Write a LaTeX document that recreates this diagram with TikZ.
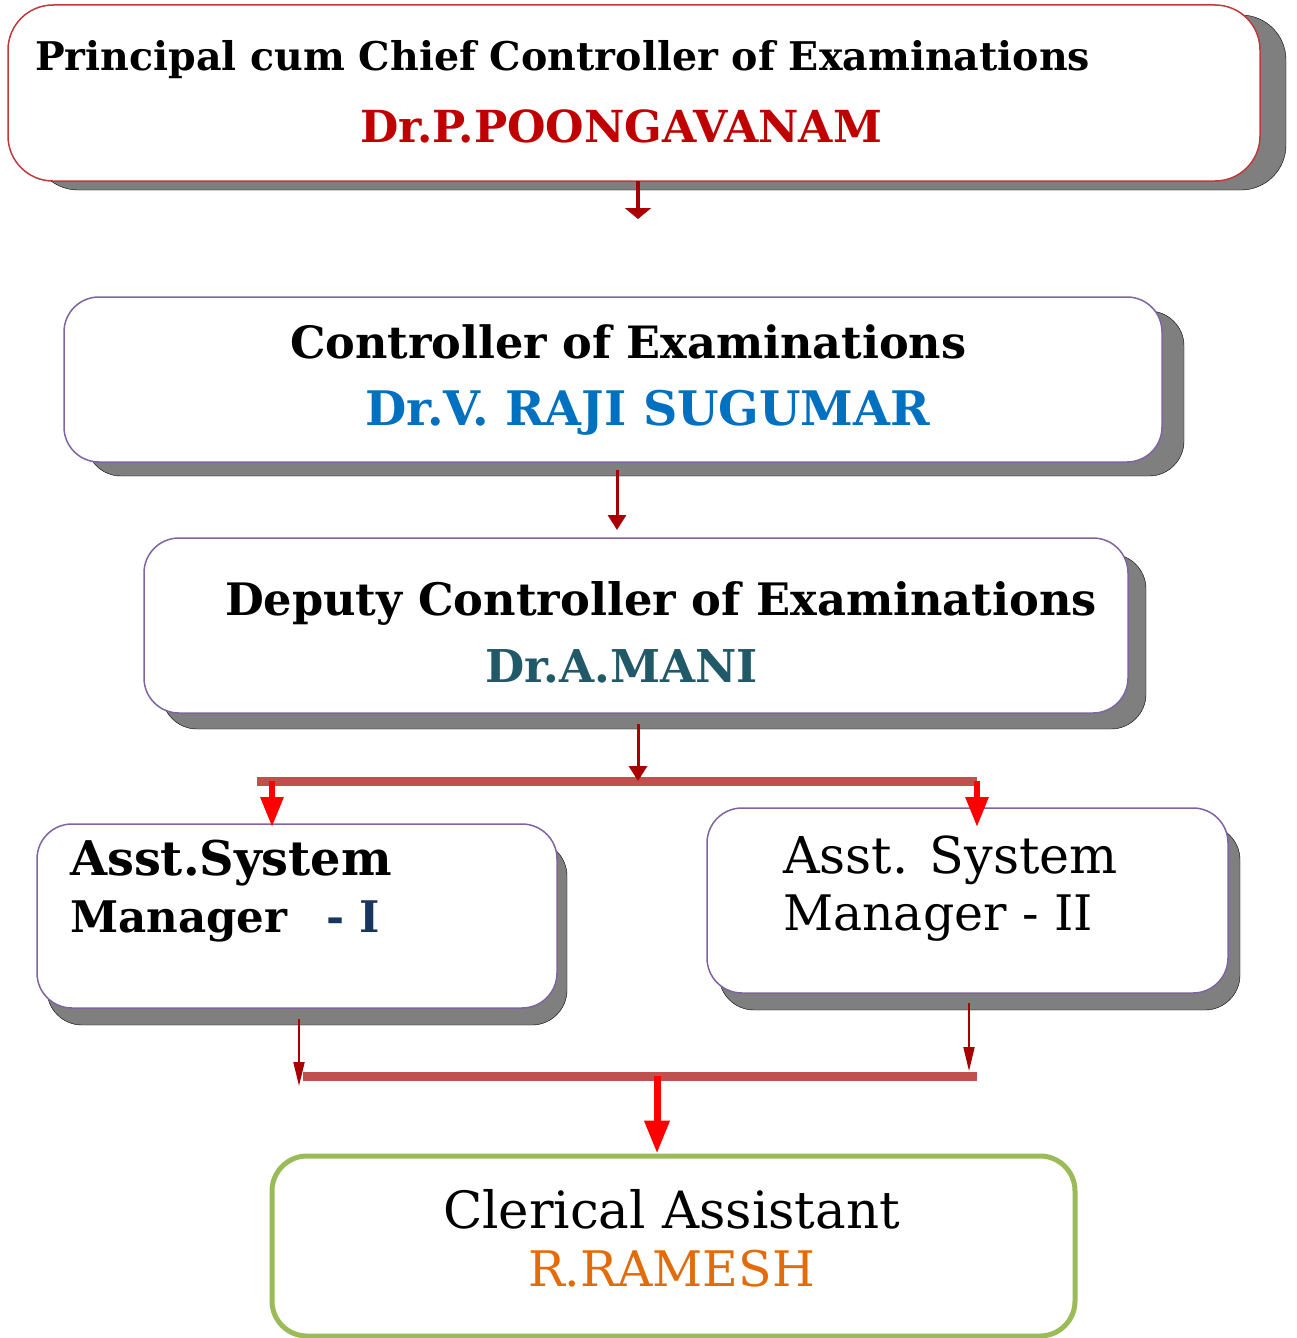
\documentclass[tikz,border=0pt]{standalone}
\usepackage{fontspec}
\setmainfont{DejaVu Serif}
\usetikzlibrary{arrows.meta}

\definecolor{shadowgray}{HTML}{7F7F7F}
\definecolor{topborder}{HTML}{C0393B}
\definecolor{purpleborder}{HTML}{8064A2}
\definecolor{greenborder}{HTML}{9BBB59}
\definecolor{barred}{HTML}{C0504D}
\definecolor{darkarrow}{HTML}{A80000}
\definecolor{namered}{HTML}{C00000}
\definecolor{nameblue}{HTML}{0070C0}
\definecolor{nameteal}{HTML}{215968}
\definecolor{namenavy}{HTML}{17365D}
\definecolor{nameorange}{HTML}{E36C0A}

\newcommand{\fitw}[2]{\resizebox{#1pt}{!}{#2}}

\tikzset{
  panel/.style={draw=purpleborder, line width=1.5pt, fill=white, rounded corners=35pt, inner sep=0pt},
  panelshadow/.style={fill=shadowgray, rounded corners=35pt, inner sep=0pt},
  txt/.style={anchor=base west, inner sep=0pt, outer sep=0pt},
  toparrow/.style={draw=darkarrow, line width=4pt, -{Triangle[width=26pt,length=11pt]}},
  midarrow/.style={draw=darkarrow, line width=3pt, -{Triangle[width=18pt,length=15pt]}},
  lowarrow/.style={draw=darkarrow, line width=2pt, -{Triangle[width=11pt,length=24pt]}},
  redarrow/.style={draw=red, line width=6pt, -{Triangle[width=22pt,length=30pt]}},
  bigredarrow/.style={draw=red, line width=7pt, -{Triangle[width=24pt,length=33pt]}},
  bar/.style={draw=barred, line width=9pt},
}

\begin{document}
\begin{tikzpicture}[x=1pt,y=-1pt]
\clip (0,0) rectangle (1296,1338);
\fill[white] (0,0) rectangle (1296,1338);

% --- top box: principal
\draw[panelshadow, rounded corners=45pt] (33,15) rectangle (1286,190);
\node[panel, draw=topborder, rounded corners=45pt, minimum width=1252pt, minimum height=176pt] (b1) at (634,93) {};
\node[txt] (t1a) at (35,70) {\fitw{1055}{\bfseries Principal cum Chief Controller of Examinations}};
\node[txt] (t1b) at (360,142) {\fitw{522}{\bfseries\color{namered}Dr.P.POONGAVANAM}};

% --- controller
\draw[panelshadow] (86,311) rectangle (1184,476);
\node[panel, minimum width=1098pt, minimum height=165pt] (b2) at (613,379.5) {};
\node[txt] (t2a) at (290,358) {\fitw{676}{\bfseries Controller of Examinations}};
\node[txt] (t2b) at (365,425) {\fitw{565}{\bfseries\color{nameblue}Dr.V. RAJI SUGUMAR}};

% --- deputy controller
\draw[panelshadow] (162,554) rectangle (1146,729);
\node[panel, minimum width=984pt, minimum height=175pt] (b3) at (636,625.5) {};
\node[txt] (t3a) at (225,615) {\fitw{872}{\bfseries Deputy Controller of Examinations}};
\node[txt] (t3b) at (485,682) {\fitw{273}{\bfseries\color{nameteal}Dr.A.MANI}};

% --- assistant system manager I
\draw[panelshadow] (47,841) rectangle (567,1025);
\node[panel, minimum width=520pt, minimum height=184pt] (b4) at (297,916) {};
\node[txt] (t4a) at (70,875) {\fitw{322}{\bfseries Asst.System}};
\node[txt] (t4b) at (70,932) {\fitw{310}{\bfseries Manager\hspace{0.9em}{\color{namenavy}- I}}};

% --- assistant system manager II
\draw[panelshadow] (719,825) rectangle (1240,1010);
\node[panel, minimum width=521pt, minimum height=185pt] (b5) at (967.5,900.5) {};
\node[txt] (t5a) at (783,873) {\fitw{335}{Asst. System}};
\node[txt] (t5b) at (783,930) {\fitw{310}{Manager - II}};

% --- clerical assistant
\node[draw=greenborder, line width=5pt, fill=white, rounded corners=35pt, inner sep=0pt,
      minimum width=803pt, minimum height=180pt] (b6) at (673.5,1246) {};
\node[txt] (t6a) at (443,1228) {\fitw{457}{Clerical Assistant}};
\node[txt] (t6b) at (528,1286) {\fitw{287}{\color{nameorange}R.RAMESH}};

% --- connector points
\coordinate (a1s) at (638,181);
\coordinate (a1e) at (638,219);
\coordinate (a2s) at (617,470);
\coordinate (a2e) at (617,530);
\coordinate (a3s) at (638,724);
\coordinate (a3e) at (638,781);
\coordinate (barL) at (257,781);
\coordinate (barR) at (977,781);
\coordinate (splitL) at (272,781);
\coordinate (splitLe) at (272,827);
\coordinate (splitR) at (977,781);
\coordinate (splitRe) at (977,827);
\coordinate (a4s) at (299,1019);
\coordinate (a4e) at (299,1086);
\coordinate (a5s) at (969,1003);
\coordinate (a5e) at (969,1071);
\coordinate (bar2L) at (303,1076);
\coordinate (bar2R) at (977,1076);
\coordinate (jn) at (657,1076);

% --- connectors
\draw[toparrow] (a1s) -- (a1e);
\draw[midarrow] (a2s) -- (a2e);
\draw[bar] (barL) -- (barR);
\draw[midarrow] (a3s) -- (a3e);
\draw[redarrow] (splitL) -- (splitLe);
\draw[redarrow] (splitR) -- (splitRe);
\draw[bar] (bar2L) -- (bar2R);
\draw[lowarrow] (a4s) -- (a4e);
\draw[lowarrow] (a5s) -- (a5e);
\draw[bigredarrow] (jn) -- (jn |- b6.north);
\end{tikzpicture}
\end{document}
